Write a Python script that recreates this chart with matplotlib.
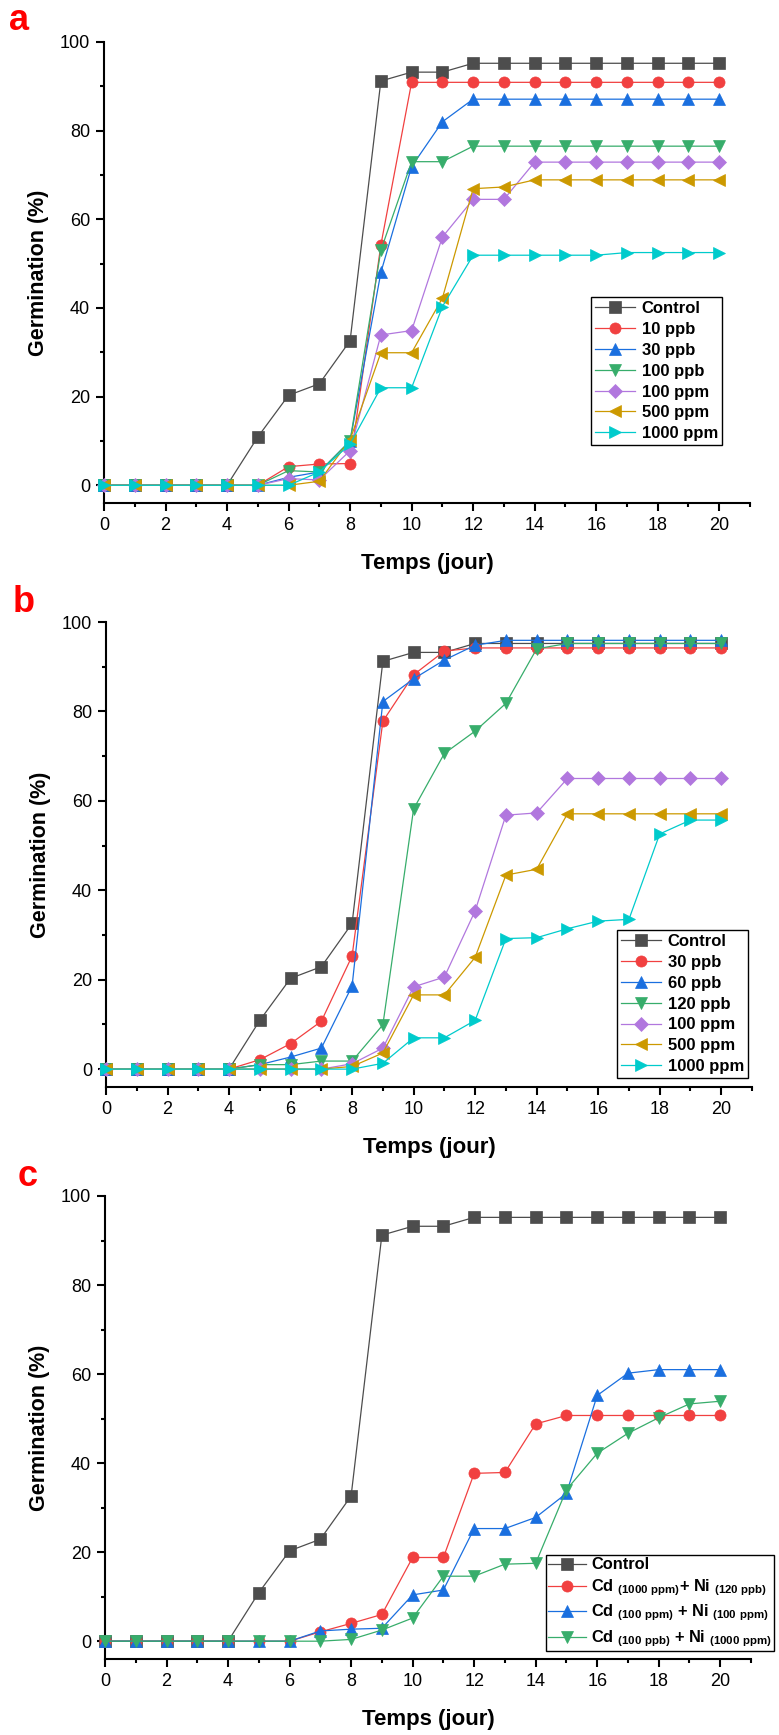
import matplotlib
matplotlib.use('Agg')
import matplotlib.pyplot as plt
from matplotlib.ticker import MultipleLocator

days = list(range(21))

# panel a
control = [0, 0, 0, 0, 0, 10.9, 20.3, 22.9, 32.6, 91.2, 93.2, 93.2] + [95.2] * 9
a_10ppb = [0] * 6 + [4.2, 4.8, 4.9, 54.2] + [90.9] * 11
a_30ppb = [0] * 6 + [1.8, 3.0, 10.0, 48.0, 71.9, 82.0] + [87.1] * 9
a_100ppb = [0] * 6 + [3.3, 3.0, 10.0, 53.0, 73.0, 73.0] + [76.5] * 9
a_100ppm = [0] * 6 + [1.5, 1.2, 7.8, 33.9, 34.9, 56.0, 64.5, 64.5] + [72.9] * 7
a_500ppm = [0] * 7 + [0.9, 10.3, 29.9, 29.9, 42.2, 66.9, 67.3] + [68.9] * 7
a_1000ppm = [0] * 7 + [3.0, 9.3, 22.0, 22.0, 40.3] + [51.9] * 5 + [52.5] * 4
a_labels = ['Control', '10 ppb', '30 ppb', '100 ppb', '100 ppm', '500 ppm', '1000 ppm']

# panel b
b_30ppb = [0] * 5 + [2.1, 5.7, 10.7, 25.3, 77.8, 88.2, 93.5] + [94.2] * 9
b_60ppb = [0] * 5 + [1.0, 2.7, 4.7, 18.6, 82.2, 87.3, 91.5, 94.8] + [95.9] * 8
b_120ppb = [0] * 5 + [1.0, 1.0, 1.8, 1.8, 9.9, 58.2, 70.6, 75.6, 81.8, 94.0] + [95.2] * 6
b_100ppm = [0] * 8 + [1.2, 4.7, 18.4, 20.6, 35.4, 56.8, 57.3] + [65.0] * 6
b_500ppm = [0] * 8 + [0.6, 3.6, 16.6, 16.6, 25.0, 43.4, 44.7] + [57.1] * 6
b_1000ppm = [0] * 9 + [1.3, 7.0, 7.0, 10.9, 29.2, 29.4, 31.4, 33.1, 33.5, 52.6, 55.7, 55.7]
b_labels = ['Control', '30 ppb', '60 ppb', '120 ppb', '100 ppm', '500 ppm', '1000 ppm']

# panel c
c_mix1 = [0] * 7 + [2.1, 4.0, 6.0, 18.8, 18.8, 37.7, 37.9, 48.8] + [50.7] * 6
c_mix2 = [0] * 7 + [2.3, 2.7, 2.9, 10.4, 11.5, 25.3, 25.3, 27.8, 33.2, 55.2, 60.2, 61.0, 61.0, 61.0]
c_mix3 = [0] * 8 + [0.4, 2.5, 5.2, 14.6, 14.6, 17.3, 17.5, 34.0, 42.2, 46.7, 50.2, 53.3, 53.9]
c_labels = ['Control',
            'Cd $_{(1000\\ ppm)}$+ Ni $_{(120\\ ppb)}$',
            'Cd $_{(100\\ ppm)}$ + Ni $_{(100\\ ppm)}$',
            'Cd $_{(100\\ ppb)}$ + Ni $_{(1000\\ ppm)}$']

colors = ['#4d4d4d', '#f14040', '#1a6fdf', '#37ad6b', '#b177de', '#cc9900', '#00cbcc']
markers = ['s', 'o', '^', 'v', 'D', '<', '>']

plt.rcParams['font.family'] = ['Liberation Sans', 'DejaVu Sans']
plt.rcParams['mathtext.fontset'] = 'custom'
plt.rcParams['mathtext.bf'] = 'Liberation Sans:bold'
plt.rcParams['mathtext.rm'] = 'Liberation Sans:bold'
plt.rcParams['mathtext.default'] = 'bf'

W, H = 779, 1735
fig = plt.figure(figsize=(W / 100, H / 100), dpi=100)


def px_axes(left, top, right, bottom):
    return fig.add_axes([left / W, 1 - bottom / H, (right - left) / W, (bottom - top) / H])


def draw_panel(ax, series, labels, leg_left, leg_top, letter, letter_xy, leg_size=12,
               leg_space=0.35, hlen=2.4, tpad=0.4, bpad=0.25):
    for i, (ys, lab) in enumerate(zip(series, labels)):
        ax.plot(days, ys, color=colors[i], marker=markers[i], ms=8 if markers[i] != 'D' else 7,
                mec=colors[i], mew=0.5, lw=0.9, label=lab, clip_on=False, zorder=3 + i)
    ax.set_xlim(0, 21)
    ax.set_ylim(-4, 100)
    ax.spines['top'].set_visible(False)
    ax.spines['right'].set_visible(False)
    ax.spines['left'].set_linewidth(1.5)
    ax.spines['bottom'].set_linewidth(1.5)
    ax.xaxis.set_major_locator(MultipleLocator(2))
    ax.xaxis.set_minor_locator(MultipleLocator(1))
    ax.yaxis.set_major_locator(MultipleLocator(20))
    ax.yaxis.set_minor_locator(MultipleLocator(10))
    ax.tick_params(which='major', direction='out', length=6, width=1.5, labelsize=13, pad=4)
    ax.tick_params(which='minor', direction='out', length=3, width=1.5)
    ax.set_xlabel('Temps (jour)', fontsize=16, fontweight='bold', labelpad=14)
    ax.set_ylabel('Germination (%)', fontsize=15.5, fontweight='bold', labelpad=8)
    leg = ax.legend(loc='upper left', bbox_to_anchor=(leg_left / W, 1 - leg_top / H),
                    bbox_transform=fig.transFigure, borderaxespad=0, fancybox=False,
                    edgecolor='black', framealpha=1, handlelength=hlen, handletextpad=tpad,
                    borderpad=bpad, labelspacing=leg_space,
                    prop={'size': leg_size, 'weight': 'bold'})
    leg.get_frame().set_linewidth(1.0)
    fig.text(letter_xy[0] / W, 1 - letter_xy[1] / H, letter, color='red', fontsize=26,
             fontweight='bold', ha='left', va='center')


ax_a = px_axes(104, 42, 750, 503)
draw_panel(ax_a, [control, a_10ppb, a_30ppb, a_100ppb, a_100ppm, a_500ppm, a_1000ppm],
           a_labels, 591, 297, 'a', (9, 20))

ax_b = px_axes(106, 622, 752, 1087)
draw_panel(ax_b, [control, b_30ppb, b_60ppb, b_120ppb, b_100ppm, b_500ppm, b_1000ppm],
           b_labels, 617, 930, 'b', (13, 602))

ax_c = px_axes(105, 1196, 751, 1659)
draw_panel(ax_c, [control, c_mix1, c_mix2, c_mix3], c_labels, 546, 1555, 'c', (18, 1176),
           leg_size=11.8, leg_space=0.3, hlen=2.3, tpad=0.3, bpad=0.15)

fig.savefig('out.png', dpi=100)
